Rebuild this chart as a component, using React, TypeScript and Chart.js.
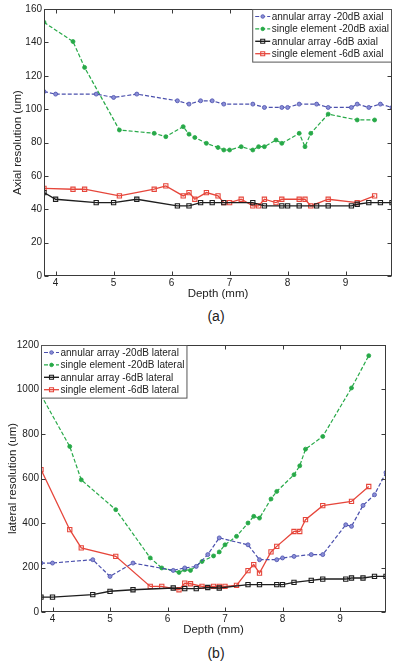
import React, { useEffect, useRef } from "react";
import { Chart, registerables } from "chart.js";
Chart.register(...registerables);

const FONT = '"Liberation Sans", Arial, Helvetica, sans-serif';

// ---------- data ----------
const arrayDepth = [3.8, 4.0, 4.7, 5.0, 5.4, 6.1, 6.3, 6.5, 6.7, 6.9, 7.4, 7.6, 7.9, 8.0, 8.2, 8.5, 8.7, 9.1, 9.2, 9.4, 9.6, 9.8];
const singleDepth = [3.8, 4.3, 4.5, 5.1, 5.7, 5.9, 6.2, 6.3, 6.4, 6.6, 6.8, 6.9, 7.0, 7.2, 7.4, 7.5, 7.6, 7.8, 7.9, 8.2, 8.3, 8.4, 8.7, 9.2, 9.5];

// (a) axial resolution (um)
const axialArray20 = [110.5, 109, 109, 107, 109, 105, 103, 105, 105, 103, 103, 101, 101, 101, 103, 103, 101, 101, 103, 101, 103, 101];
const axialSingle20 = [152, 140.5, 125, 87.5, 85.5, 83.5, 89.5, 85, 83, 79.5, 77, 75.5, 75.5, 77.5, 75.5, 77.5, 77.5, 81.5, 79.5, 85.5, 77.5, 85.5, 97, 93.5, 93.5];
const axialArray6 = [50, 46, 44, 44, 46, 42, 42, 44, 44, 44, 44, 42, 42, 42, 42, 42, 42, 42, 43, 44, 44, 44];
const axialSingle6 = [52.5, 52, 52, 48, 52, 54, 48, 50, 46, 50, 48, 44, 44, 46, 42, 42, 46, 44, 46, 46, 46, 42, 46, 44, 48];

// (b) lateral resolution (um)
const latArray20 = [220, 220, 235, 160, 220, 187, 198, 205, 258, 333, 302, 235, 235, 243, 250, 258, 258, 392, 385, 479, 527, 627];
const latSingle20 = [975, 744, 594, 460, 243, 198, 178, 190, 187, 227, 252, 270, 302, 340, 400, 430, 422, 508, 542, 617, 657, 732, 789, 1007, 1152];
const latArray6 = [67, 67, 78, 93, 100, 108, 105, 105, 110, 108, 123, 123, 123, 123, 133, 142, 148, 148, 153, 153, 160, 160];
const latSingle6 = [640, 370, 288, 250, 115, 115, 100, 130, 127, 115, 115, 115, 115, 120, 186, 213, 175, 270, 295, 362, 362, 415, 478, 497, 564];

const xTicks = [4, 5, 6, 7, 8, 9];

const labelsA = ["annular array -20dB axial", "single element -20dB axial", "annular array -6dB axial", "single element -6dB axial"];
const labelsB = ["annular array -20dB lateral", "single element -20dB lateral", "annular array -6dB lateral", "single element -6dB lateral"];

const BLUE = "#4b50ad";
const GREEN = "#27a948";
const BLACK = "#1e1e1e";
const RED = "#e6463b";

const pts = (xs: number[], ys: number[]) => xs.map((x, i) => ({ x, y: ys[i] }));

function makeDatasets(labels: string[], a20: number[], s20: number[], a6: number[], s6: number[]) {
  return [
    { label: labels[0], data: pts(arrayDepth, a20), borderColor: BLUE, backgroundColor: BLUE, borderWidth: 1.2, borderDash: [4, 2], pointStyle: "circle", pointRadius: 2, pointBorderWidth: 0.8, pointBackgroundColor: "#8a8ed6", pointBorderColor: BLUE },
    { label: labels[1], data: pts(singleDepth, s20), borderColor: GREEN, backgroundColor: GREEN, borderWidth: 1.2, borderDash: [4, 2], pointStyle: "circle", pointRadius: 2, pointBorderWidth: 0.8, pointBackgroundColor: GREEN, pointBorderColor: GREEN },
    { label: labels[2], data: pts(arrayDepth, a6), borderColor: BLACK, backgroundColor: BLACK, borderWidth: 1.4, borderDash: [], pointStyle: "rect", pointRadius: 3, pointBorderWidth: 1.1, pointBackgroundColor: "rgba(255,255,255,0)", pointBorderColor: BLACK },
    { label: labels[3], data: pts(singleDepth, s6), borderColor: RED, backgroundColor: RED, borderWidth: 1.3, borderDash: [], pointStyle: "rect", pointRadius: 3, pointBorderWidth: 1.1, pointBackgroundColor: "rgba(255,255,255,0)", pointBorderColor: RED },
  ];
}

const matlabPlugin = {
  id: "matlabBox",
  afterDraw(chart: any, _args: any, opts: any) {
    const { ctx, chartArea: a, scales } = chart;
    ctx.save();
    ctx.strokeStyle = "#3a3a3a";
    ctx.lineWidth = 1;
    ctx.setLineDash([]);
    ctx.beginPath();
    const L = Math.round(a.left) + 0.5, R = Math.round(a.right) - 0.5;
    const T = Math.round(a.top) + 0.5, B = Math.round(a.bottom) - 0.5;
    scales.x.ticks.forEach((t: any) => {
      const px = Math.round(scales.x.getPixelForValue(t.value)) + 0.5;
      ctx.moveTo(px, B); ctx.lineTo(px, B - 4);
      ctx.moveTo(px, T); ctx.lineTo(px, T + 4);
    });
    scales.y.ticks.forEach((t: any) => {
      const py = Math.round(scales.y.getPixelForValue(t.value)) + 0.5;
      ctx.moveTo(L, py); ctx.lineTo(L + 4, py);
      ctx.moveTo(R, py); ctx.lineTo(R - 4, py);
    });
    ctx.stroke();
    ctx.strokeRect(L, T, R - L, B - T);

    // legend box
    const ds = chart.data.datasets;
    ctx.font = `10px ${FONT}`;
    const tw = Math.max(...ds.map((d: any) => ctx.measureText(d.label).width));
    const w = 19 + tw + 2.5;
    const rowH = 12.4;
    const h = ds.length * rowH + 3;
    const x0 = opts.align === "left" ? L : R - w;
    const y0 = T;
    ctx.fillStyle = "#fff";
    ctx.fillRect(x0, y0, w, h);
    ctx.strokeStyle = "#555";
    ctx.strokeRect(x0, y0, w, h);
    ds.forEach((d: any, i: number) => {
      const cy = y0 + 7 + i * rowH;
      ctx.strokeStyle = d.borderColor;
      ctx.lineWidth = d.borderWidth;
      ctx.setLineDash(d.borderDash || []);
      ctx.beginPath();
      ctx.moveTo(x0 + 2.5, cy);
      ctx.lineTo(x0 + 17.5, cy);
      ctx.stroke();
      ctx.setLineDash([]);
      ctx.lineWidth = d.pointBorderWidth;
      ctx.strokeStyle = d.pointBorderColor;
      ctx.fillStyle = d.pointBackgroundColor;
      const mx = x0 + 10;
      if (d.pointStyle === "rect") {
        ctx.beginPath();
        ctx.rect(mx - 2, cy - 2, 4, 4);
        ctx.fill();
        ctx.stroke();
      } else {
        ctx.beginPath();
        ctx.arc(mx, cy, 1.8, 0, Math.PI * 2);
        ctx.fill();
        ctx.stroke();
      }
      ctx.fillStyle = "#222";
      ctx.textBaseline = "middle";
      ctx.textAlign = "left";
      ctx.fillText(d.label, x0 + 19, cy + 0.5);
    });
    ctx.restore();
  },
};

interface PanelProps {
  datasets: any[];
  yMax: number;
  yStep: number;
  yTitle: string;
  height: number;
  pad: { top: number; right: number };
  yWidth: number;
  xHeight: number;
  yTitlePad: number;
  legendAlign: string;
}

function Panel(p: PanelProps) {
  const ref = useRef<HTMLCanvasElement | null>(null);
  useEffect(() => {
    if (!ref.current) return;
    const chart = new Chart(ref.current, {
      type: "line",
      data: { datasets: p.datasets },
      plugins: [matlabPlugin],
      options: {
        responsive: false,
        animation: false,
        events: [],
        layout: { padding: { top: p.pad.top, right: p.pad.right, left: 0, bottom: 0 } },
        plugins: {
          legend: { display: false },
          tooltip: { enabled: false },
          matlabBox: { align: p.legendAlign },
        } as any,
        scales: {
          x: {
            type: "linear",
            min: 3.8,
            max: 9.8,
            afterBuildTicks: (s: any) => { s.ticks = xTicks.map((v) => ({ value: v })); },
            afterFit: (s: any) => { s.height = p.xHeight; },
            grid: { display: false, drawTicks: false },
            border: { display: false },
            ticks: { padding: 1, color: "#222", font: { family: FONT, size: 10 }, maxRotation: 0, autoSkip: false, callback: (v: any) => String(v) },
            title: { display: true, text: "Depth (mm)", color: "#222", font: { family: FONT, size: 11.5 }, padding: 0 },
          },
          y: {
            type: "linear",
            min: 0,
            max: p.yMax,
            afterFit: (s: any) => { s.width = p.yWidth; },
            grid: { display: false, drawTicks: false },
            border: { display: false },
            ticks: { stepSize: p.yStep, padding: 2, color: "#222", font: { family: FONT, size: 10 }, callback: (v: any) => String(v) },
            title: { display: true, text: p.yTitle, color: "#222", font: { family: FONT, size: 11.5 }, padding: { top: p.yTitlePad, bottom: 0 } },
          },
        },
      } as any,
    });
    return () => chart.destroy();
  }, []);
  return <canvas ref={ref} width={400} height={p.height} style={{ width: 400, height: p.height, display: "block" }} />;
}

const capStyle = (top: number): React.CSSProperties => ({
  position: "absolute",
  left: 216,
  top,
  transform: "translateX(-50%)",
  fontFamily: FONT,
  fontSize: 14,
  lineHeight: "14px",
  color: "#222",
});

export default function App() {
  return (
    <div style={{ position: "absolute", left: 0, top: 0, width: 400, height: 663, background: "#fff", overflow: "hidden" }}>
      <div style={{ position: "absolute", left: 0, top: 0 }}>
        <Panel
          datasets={makeDatasets(labelsA, axialArray20, axialSingle20, axialArray6, axialSingle6)}
          yMax={160}
          yStep={20}
          yTitle="Axial resolution (um)"
          height={301}
          pad={{ top: 9, right: 8 }}
          yWidth={44}
          xHeight={25}
          yTitlePad={11}
          legendAlign="right"
        />
      </div>
      <div style={capStyle(309)}>(a)</div>
      <div style={{ position: "absolute", left: 0, top: 326 }}>
        <Panel
          datasets={makeDatasets(labelsB, latArray20, latSingle20, latArray6, latSingle6)}
          yMax={1200}
          yStep={200}
          yTitle="lateral resolution (um)"
          height={311}
          pad={{ top: 19, right: 14 }}
          yWidth={41}
          xHeight={25}
          yTitlePad={6}
          legendAlign="left"
        />
      </div>
      <div style={capStyle(646)}>(b)</div>
    </div>
  );
}
